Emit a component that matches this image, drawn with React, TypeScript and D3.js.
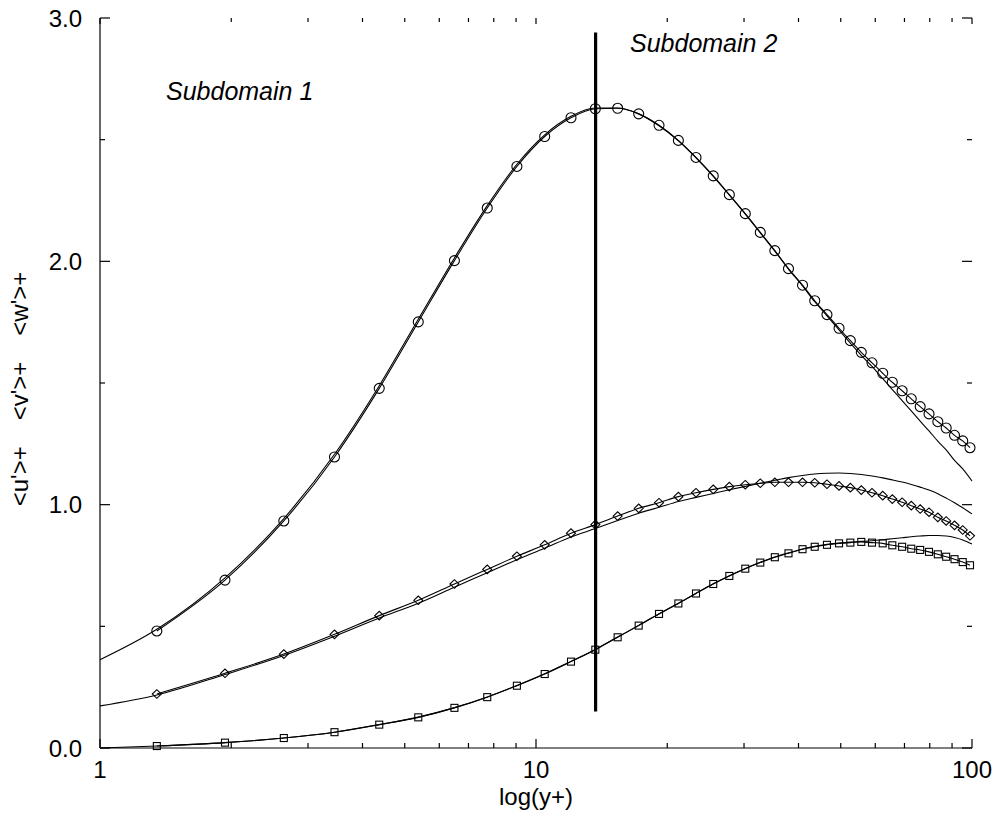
import { useEffect, useRef } from 'react'
import * as d3 from 'd3'

// y+ positions of the marked points (shared by the three marked series)
const yPlus = [
  1.35, 1.935, 2.64, 3.45, 4.37, 5.37, 6.5, 7.73, 9.04, 10.47, 12.03, 13.68, 15.39, 17.2, 19.15,
  21.21, 23.28, 25.5, 27.76, 30.2, 32.69, 35.3, 37.94, 40.86, 43.58, 46.49, 49.55, 52.6, 55.73,
  58.97, 62.41, 65.65, 69.14, 72.56, 76.06, 79.69, 83.48, 87.25, 91.18, 95.22, 98.95,
]

// circles
const uMarked = [
  0.481, 0.69, 0.933, 1.196, 1.478, 1.751, 2.003, 2.219, 2.39, 2.513, 2.59, 2.627, 2.629, 2.606,
  2.559, 2.497, 2.427, 2.351, 2.274, 2.196, 2.119, 2.044, 1.97, 1.902, 1.838, 1.781, 1.725, 1.674,
  1.626, 1.583, 1.54, 1.503, 1.468, 1.435, 1.403, 1.373, 1.341, 1.315, 1.285, 1.262, 1.234,
]
// diamonds
const wMarked = [
  0.222, 0.307, 0.386, 0.467, 0.544, 0.607, 0.674, 0.734, 0.788, 0.835, 0.883, 0.918, 0.953, 0.985,
  1.008, 1.033, 1.049, 1.063, 1.074, 1.082, 1.088, 1.092, 1.092, 1.092, 1.09, 1.084, 1.077, 1.07,
  1.06, 1.049, 1.037, 1.023, 1.01, 0.996, 0.982, 0.969, 0.948, 0.933, 0.915, 0.896, 0.872,
]
// squares
const vMarked = [
  0.008, 0.022, 0.041, 0.065, 0.096, 0.126, 0.165, 0.209, 0.256, 0.304, 0.355, 0.404, 0.455, 0.503,
  0.551, 0.594, 0.635, 0.674, 0.707, 0.737, 0.762, 0.784, 0.8, 0.817, 0.827, 0.835, 0.841, 0.844,
  0.847, 0.844, 0.841, 0.833, 0.827, 0.819, 0.814, 0.806, 0.796, 0.786, 0.776, 0.764, 0.751,
]

// plain reference curves
const refYPlus = [
  1, 1.35, 1.935, 2.64, 3.45, 4.37, 5.37, 6.5, 7.73, 9.04, 10.47, 12.03, 13.68, 15.39, 17.2, 19.15,
  21.21, 23.28, 25.5, 27.76, 30.2, 32.69, 35.3, 37.94, 40.86, 43.58, 46.49, 49.55, 52.6, 55.73,
  58.97, 62.41, 65.65, 69.14, 72.56, 76.06, 79.69, 83.48, 87.25, 91.18, 95.22, 100,
]
const uRef = [
  0.363, 0.488, 0.699, 0.943, 1.207, 1.489, 1.762, 2.014, 2.229, 2.399, 2.52, 2.596, 2.63, 2.63,
  2.606, 2.557, 2.495, 2.425, 2.349, 2.272, 2.194, 2.117, 2.042, 1.968, 1.899, 1.834, 1.776, 1.718,
  1.664, 1.614, 1.568, 1.518, 1.473, 1.428, 1.385, 1.343, 1.303, 1.261, 1.225, 1.182, 1.147, 1.097,
]
const wRef = [
  0.173, 0.218, 0.302, 0.38, 0.459, 0.534, 0.595, 0.661, 0.72, 0.774, 0.821, 0.867, 0.902, 0.935,
  0.965, 0.989, 1.013, 1.03, 1.046, 1.061, 1.075, 1.088, 1.1, 1.111, 1.12, 1.126, 1.129, 1.13,
  1.128, 1.124, 1.118, 1.11, 1.102, 1.093, 1.083, 1.072, 1.06, 1.045, 1.027, 1.008, 0.987, 0.962,
]
const vRef = [
  0.0, 0.008, 0.022, 0.041, 0.065, 0.096, 0.127, 0.166, 0.21, 0.257, 0.305, 0.356, 0.405, 0.456,
  0.504, 0.552, 0.595, 0.636, 0.675, 0.708, 0.738, 0.763, 0.785, 0.802, 0.818, 0.829, 0.837, 0.842,
  0.846, 0.849, 0.852, 0.856, 0.86, 0.864, 0.868, 0.871, 0.873, 0.873, 0.871, 0.865, 0.855, 0.838,
]

// subdomain interface
const interfaceYPlus = 13.7
const interfaceRange = [0.15, 2.94]

const xMajorTicks = [1, 10, 100]
const xMinorTicks = [2, 3, 4, 5, 6, 7, 8, 9, 20, 30, 40, 50, 60, 70, 80, 90]
const xTickLabels = ['1', '10', '100']
const yMajorTicks = [0, 1, 2, 3]
const yMinorTicks = [0.5, 1.5, 2.5]
const yTickLabels = ['0.0', '1.0', '2.0', '3.0']
const yTitleParts = ["<u'>+", "<v'>+", "<w'>+"]

const FONT = "'Liberation Sans', Arial, Helvetica, sans-serif"

export default function App() {
  const svgRef = useRef<SVGSVGElement>(null)

  useEffect(() => {
    if (!svgRef.current) return
    const width = 997
    const height = 819
    const left = 100
    const right = 972
    const top = 18
    const bottom = 748

    const svg = d3.select(svgRef.current)
    svg.selectAll('*').remove()
    svg.attr('width', width).attr('height', height)

    svg.append('rect').attr('width', width).attr('height', height).attr('fill', '#fff')

    const x = d3.scaleLog().domain([1, 100]).range([left, right])
    const y = d3.scaleLinear().domain([0, 3]).range([bottom, top])

    const axis = svg.append('g').attr('stroke', '#000').attr('stroke-width', 1.2).attr('fill', 'none')
    // frame: left and bottom lines
    axis.append('line').attr('x1', left).attr('x2', left).attr('y1', top).attr('y2', bottom)
    axis.append('line').attr('x1', left).attr('x2', right).attr('y1', bottom).attr('y2', bottom)

    // y ticks, both sides, pointing inward
    const yTicks = [
      ...yMajorTicks.map(v => ({ v, len: 10 })),
      ...yMinorTicks.map(v => ({ v, len: 5 })),
    ]
    yTicks.forEach(t => {
      axis.append('line').attr('x1', left).attr('x2', left + t.len).attr('y1', y(t.v)).attr('y2', y(t.v))
      axis.append('line').attr('x1', right).attr('x2', right - t.len).attr('y1', y(t.v)).attr('y2', y(t.v))
    })

    // x ticks, bottom and top
    const xTicks = [
      ...xMajorTicks.map(v => ({ v, len: 9 })),
      ...xMinorTicks.map(v => ({ v, len: 5 })),
    ]
    xTicks.forEach(t => {
      axis.append('line').attr('x1', x(t.v)).attr('x2', x(t.v)).attr('y1', bottom).attr('y2', bottom - t.len)
      axis.append('line').attr('x1', x(t.v)).attr('x2', x(t.v)).attr('y1', top).attr('y2', top + (t.len > 5 ? 6 : 4))
    })

    // tick labels
    const labels = svg.append('g').attr('font-family', FONT).attr('font-size', 24).attr('fill', '#000')
    yMajorTicks.forEach((v, i) => {
      labels.append('text').attr('x', 82).attr('y', y(v)).attr('dy', '0.36em').attr('text-anchor', 'end').text(yTickLabels[i])
    })
    xMajorTicks.forEach((v, i) => {
      labels.append('text').attr('x', x(v)).attr('y', 778).attr('text-anchor', 'middle').text(xTickLabels[i])
    })

    // axis titles
    labels.append('text').attr('x', (left + right) / 2).attr('y', 805).attr('text-anchor', 'middle').text('log(y+)')
    const yTitle = labels
      .append('text')
      .attr('transform', `translate(28,${389}) rotate(-90)`)
      .attr('text-anchor', 'middle')
    yTitleParts.forEach((p, i) => {
      yTitle.append('tspan').attr('dx', i === 0 ? 0 : 26).text(p)
    })

    // subdomain annotations
    labels.append('text').attr('x', 166).attr('y', 100).attr('font-style', 'italic').attr('font-size', 25).text('Subdomain 1')
    labels.append('text').attr('x', 630).attr('y', 52).attr('font-style', 'italic').attr('font-size', 25).text('Subdomain 2')

    const line = d3
      .line<[number, number]>()
      .x(d => x(d[0]))
      .y(d => y(d[1]))
      .curve(d3.curveMonotoneX)

    const curves = svg.append('g').attr('fill', 'none').attr('stroke', '#000').attr('stroke-width', 1.1)
    ;[uRef, wRef, vRef].forEach(vals => {
      curves.append('path').attr('d', line(refYPlus.map((v, i) => [v, vals[i]] as [number, number])))
    })
    ;[uMarked, wMarked, vMarked].forEach(vals => {
      curves.append('path').attr('d', line(yPlus.map((v, i) => [v, vals[i]] as [number, number])))
    })

    // markers
    const marks = svg.append('g').attr('fill', 'none').attr('stroke', '#000').attr('stroke-width', 1.1)
    yPlus.forEach((v, i) => {
      marks.append('circle').attr('cx', x(v)).attr('cy', y(uMarked[i])).attr('r', 5)
      const dx = x(v)
      const dy = y(wMarked[i])
      marks
        .append('path')
        .attr('d', `M${dx - 4.5},${dy}L${dx},${dy - 4.3}L${dx + 4.5},${dy}L${dx},${dy + 4.3}Z`)
      marks
        .append('rect')
        .attr('x', x(v) - 3.5)
        .attr('y', y(vMarked[i]) - 3.5)
        .attr('width', 7)
        .attr('height', 7)
    })

    // interface line between subdomains
    svg
      .append('line')
      .attr('x1', x(interfaceYPlus))
      .attr('x2', x(interfaceYPlus))
      .attr('y1', y(interfaceRange[0]))
      .attr('y2', y(interfaceRange[1]))
      .attr('stroke', '#000')
      .attr('stroke-width', 3.2)
  }, [])

  return (
    <div style={{ position: 'absolute', left: 0, top: 0 }}>
      <svg ref={svgRef}></svg>
    </div>
  )
}
